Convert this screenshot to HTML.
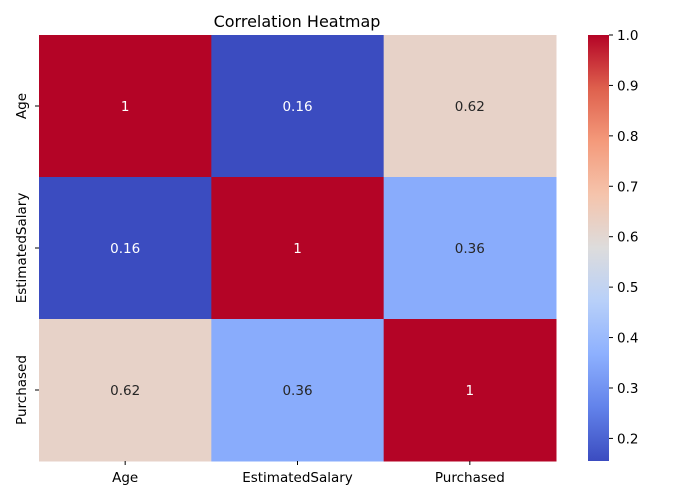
<!DOCTYPE html>
<html><head><meta charset="utf-8"><style>
body{margin:0;background:#fff}
svg{display:block;font-family:"DejaVu Sans","Liberation Sans",sans-serif}
</style></head><body>
<svg id="chart" width="700" height="500" viewBox="0 0 700 500">
<text x="297" y="27" text-anchor="middle" font-size="16" fill="#000">Correlation Heatmap</text>
<g id="cells"></g><g id="xticks"></g><g id="yticks"></g>
<defs><linearGradient id="cw" x1="0" y1="1" x2="0" y2="0"></linearGradient></defs>
<rect id="cbar" x="588" y="35" width="21" height="426" fill="url(#cw)"/>
<g id="cticks"></g>
</svg>
<script>
const labels = ["Age","EstimatedSalary","Purchased"];
const row0 = [1, 0.1552, 0.622];
const row1 = [0.1552, 1, 0.357];
const row2 = [0.622, 0.357, 1];
const cbarTicks = [0.2,0.3,0.4,0.5,0.6,0.7,0.8,0.9,1.0];
const rows=[row0,row1,row2];
const stops=["#3b4cc0","#6282ea","#8db0fe","#b8d0f9","#dddcdc","#f5c4ac","#f49a7b","#de604d","#b40426"];
const NS="http://www.w3.org/2000/svg";
const all=rows.flat(); const vmin=Math.min(...all), vmax=Math.max(...all);
const X0=39,X1=556,Y0=35,Y1=461;
const cw=(X1-X0)/labels.length, ch=(Y1-Y0)/labels.length;
function hex(h){return [1,3,5].map(i=>parseInt(h.substr(i,2),16));}
function color(v){let t=(v-vmin)/(vmax-vmin);t=Math.max(0,Math.min(1,t))*(stops.length-1);
 const i=Math.min(Math.floor(t),stops.length-2),f=t-i;const a=hex(stops[i]),b=hex(stops[i+1]);
 return a.map((c,k)=>Math.round(c+(b[k]-c)*f));}
function mk(tag,attrs,parent){const e=document.createElementNS(NS,tag);for(const k in attrs)e.setAttribute(k,attrs[k]);parent.appendChild(e);return e;}
const cells=document.getElementById('cells');
rows.forEach((r,i)=>r.forEach((v,j)=>{
 const c=color(v);
 const rc=mk('rect',{x:X0+j*cw,y:Y0+i*ch,width:cw+0.5,height:ch+0.5,fill:`rgb(${c})`},cells);
 
 
 const lum=c.map(x=>{x/=255;return x<=0.03928?x/12.92:Math.pow((x+0.055)/1.055,2.4)});
 const L=0.2126*lum[0]+0.7152*lum[1]+0.0722*lum[2];
 const t=mk('text',{x:X0+(j+0.5)*cw,y:Y0+(i+0.5)*ch+5,'text-anchor':'middle','font-size':'13.5',fill:L>0.408?'#262626':'#fff'},cells);
 t.textContent=String(Number(v.toPrecision(2)));
 
 
}));
const xt=document.getElementById('xticks'),yt=document.getElementById('yticks');
labels.forEach((l,i)=>{
 const cx=X0+(i+0.5)*cw;
 mk('line',{x1:cx,x2:cx,y1:Y1,y2:Y1+4,stroke:'#000'},xt);
 const t=mk('text',{x:cx,y:Y1+21,'text-anchor':'middle','font-size':'13.5'},xt);t.textContent=l;
 
 
 const cy=Y0+(i+0.5)*ch;
 mk('line',{x1:X0-4,x2:X0,y1:cy,y2:cy,stroke:'#000'},yt);
 const u=mk('text',{x:0,y:0,'text-anchor':'middle','font-size':'13.5',transform:`translate(26,${cy}) rotate(-90)`},yt);u.textContent=l;
 
 
});
const g=document.querySelector('#cw');
stops.forEach((s,i)=>mk('stop',{offset:i/(stops.length-1),'stop-color':s},g));
const ct=document.getElementById('cticks');
const CY=v=>Y1-(v-vmin)/(vmax-vmin)*(Y1-Y0);
cbarTicks.forEach(v=>{const y=CY(v);
 mk('line',{x1:609,x2:613,y1:y,y2:y,stroke:'#000'},ct);
 const t=mk('text',{x:617,y:y+5,'font-size':'13.5'},ct);t.textContent=v.toFixed(1);
 
 
});
</script>
</body></html>
